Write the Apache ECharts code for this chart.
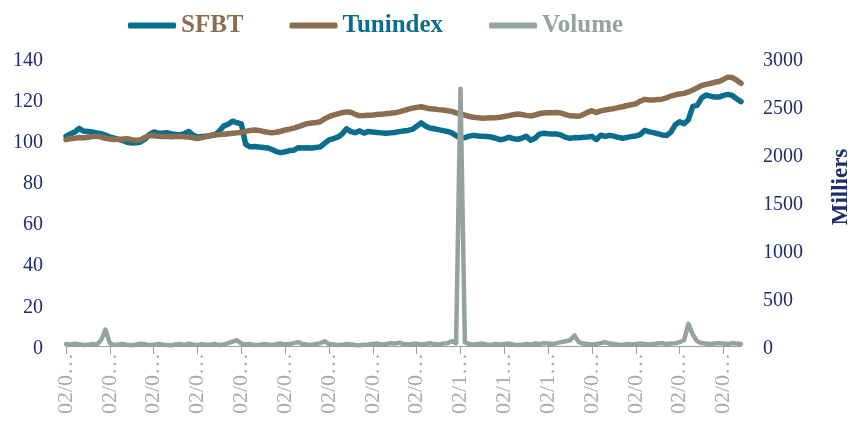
<!DOCTYPE html>
<html>
<head>
<meta charset="utf-8">
<script src="https://cdn.jsdelivr.net/npm/echarts@6/dist/echarts.min.js"></script>
<style>
  html, body { margin: 0; padding: 0; background: #fff; }
  #main { width: 849px; height: 421px; }
</style>
</head>
<body>
<div id="main"></div>
<script>
var tickDates = [
  '02/01/2020', '02/02/2020', '02/03/2020', '02/04/2020', '02/05/2020', '02/06/2020',
  '02/07/2020', '02/08/2020', '02/09/2020', '02/10/2020', '02/11/2020', '02/12/2020',
  '02/01/2021', '02/02/2021', '02/03/2021', '02/04/2021'
];

var sfbt = [
  102, 103, 104, 105.8, 104.5, 104.3, 104, 103.6, 103.2, 102.5,
  101.6, 101, 100.4, 99.8, 99, 98.7, 98.8, 99.2, 100.5, 102.8,
  104, 103.6, 103.4, 103.7, 103.2, 102.8, 102.6, 103.2, 104.3, 102.5,
  101.6, 101.8, 102, 102.2, 102.8, 104.5, 107, 107.8, 109.3, 108.5,
  108, 98, 96.8, 97, 96.7, 96.5, 96.3, 95.5, 94.5, 94,
  94.4, 95, 95.2, 96.4, 96.2, 96.4, 96.2, 96.5, 96.8, 98.5,
  100.2, 100.8, 101.5, 103, 105.6, 104.2, 103.7, 104.6, 103.5, 104.3,
  104, 103.8, 103.6, 103.4, 103.6, 103.8, 104.2, 104.5, 104.8, 105.3,
  106.8, 108.5, 107, 106, 105.6, 105.2, 104.7, 104.3, 103.6, 102.3,
  101, 101.3, 102, 102.4, 102.1, 102, 101.8, 101.6, 101, 100.3,
  100.6, 101.5, 100.8, 100.5, 101, 102, 100, 101, 103, 103.4,
  103.2, 103.1, 103, 102.5, 101.4, 101, 101.3, 101.2, 101.5, 101.6,
  101.9, 100.4, 102.5, 101.9, 102.4, 102, 101.4, 101, 101.4, 101.8,
  102.1, 102.8, 104.8, 104.2, 103.7, 103.2, 102.6, 102.3, 104, 107.5,
  109, 108, 110, 116.5, 117, 120.5, 122, 121.5, 121, 121,
  121.8, 122.3, 121.8, 120.2, 118.8
];

var tunindex = [
  100.3, 100.8, 101, 101.3, 101.2, 101.5, 101.8, 102, 101.6, 101,
  100.6, 100.4, 100.5, 100.6, 100.8, 100.3, 99.9, 100.3, 101.3, 102.2,
  102.3, 102, 101.8, 101.8, 101.7, 101.8, 101.9, 101.7, 101.6, 101.2,
  100.9, 101.3, 101.8, 102.4, 102.6, 102.8, 102.9, 103.2, 103.4, 103.6,
  103.8, 104.3, 104.8, 105, 104.8, 104.3, 103.9, 103.7, 103.9, 104.4,
  105, 105.4, 105.9, 106.6, 107.4, 108.1, 108.4, 108.6, 109, 110.4,
  111.5, 112.2, 112.8, 113.4, 113.8, 113.6, 112.6, 111.9, 112, 112.2,
  112.3, 112.5, 112.7, 112.9, 113.1, 113.4, 113.8, 114.4, 115, 115.6,
  116, 116.3, 115.8, 115.3, 115.2, 114.9, 114.7, 114.4, 114, 113.3,
  112.8, 112.2, 111.6, 111.2, 110.9, 110.7, 110.8, 110.9, 111, 111.2,
  111.6, 112, 112.4, 112.8, 112.5, 112.1, 111.8, 112.3, 112.9, 113.3,
  113.4, 113.4, 113.5, 113.2, 112.5, 111.9, 111.8, 111.7, 112.5, 113.6,
  114.4, 113.5, 114.3, 114.7, 115.1, 115.4, 115.9, 116.3, 116.9, 117.3,
  117.7, 119, 119.9, 119.6, 119.6, 119.8, 120, 120.6, 121.5, 122.1,
  122.5, 122.8, 123.5, 124.4, 125.5, 126.6, 127.2, 127.6, 128.2, 128.6,
  129.6, 130.7, 130.5, 129.2, 127.7
];

// volume in thousands (right axis)
var volume = [
  20, 15, 25, 18, 10, 12, 20, 15, 60, 170,
  30, 10, 15, 20, 12, 8, 15, 25, 18, 10,
  12, 20, 15, 10, 8, 15, 20, 12, 25, 15,
  10, 18, 12, 15, 20, 10, 15, 30, 45, 60,
  25, 15, 20, 10, 12, 18, 15, 10, 20, 25,
  15, 20, 30, 40, 20, 15, 12, 20, 30, 50,
  20, 15, 10, 12, 20, 15, 10, 8, 12, 15,
  20, 25, 15, 20, 30, 25, 35, 20, 15, 20,
  25, 15, 20, 30, 20, 15, 25, 30, 50, 30,
  2680, 40, 20, 15, 20, 25, 15, 12, 20, 15,
  20, 25, 15, 10, 12, 20, 15, 25, 20, 30,
  25, 20, 30, 40, 50, 60, 110, 40, 25, 20,
  15, 20, 30, 40, 25, 20, 15, 12, 20, 15,
  20, 25, 20, 15, 20, 25, 30, 20, 25, 30,
  40, 60, 230, 120, 50, 30, 25, 20, 25, 30,
  25, 20, 30, 25, 20
];

var categories = [];
for (var i = 0; i < sfbt.length; i++) {
  var t = tickDates[Math.floor(i / 10)];
  categories.push(i % 10 === 0 ? t : t + ' +' + (i % 10));
}

var navy = '#1f2d6b';
var blue = '#0a6d8d';
var brown = '#8a6e4f';
var grey = '#95a39e';
var font = '"Liberation Serif", "DejaVu Serif", serif';

// value labels nudged a little lower, as in the original
var valueLabel = {
  fontSize: 20,
  fontFamily: font,
  formatter: function (v) { return '{v|' + v + '}'; },
  rich: { v: { color: navy, fontSize: 20, fontFamily: font, padding: [5, 0, 0, 0] } }
};

var chart = echarts.init(document.getElementById('main'));

var option = {
  animation: false,
  textStyle: { fontFamily: font },
  legend: {
    left: 123,
    top: 8,
    itemWidth: 48,
    itemHeight: 6,
    itemGap: 46,
    icon: 'roundRect',
    textStyle: { fontFamily: font, fontSize: 25, fontWeight: 'bold' },
    data: [
      { name: 'SFBT', textStyle: { color: brown } },
      { name: 'Tunindex', textStyle: { color: blue } },
      { name: 'Volume', textStyle: { color: grey } }
    ]
  },
  grid: { left: 66, right: 108, top: 58, bottom: 75, containLabel: false, outerBoundsMode: 'none' },
  xAxis: {
    type: 'category',
    data: categories,
    boundaryGap: false,
    axisLine: { show: true, lineStyle: { color: grey, width: 1 } },
    axisTick: { show: true, interval: 9, length: 8, lineStyle: { color: grey } },
    axisLabel: {
      interval: 9,
      rotate: 90,
      color: '#a3aeaa',
      fontSize: 22,
      fontFamily: font,
      margin: 7,
      formatter: function (v) { return v.slice(0, 4) + '…'; }
    }
  },
  yAxis: [
    {
      type: 'value',
      min: 0, max: 140, interval: 20,
      splitLine: { show: false },
      axisLine: { show: false },
      axisTick: { show: false },
      axisLabel: Object.assign({ margin: 23 }, valueLabel)
    },
    {
      type: 'value',
      min: 0, max: 3000, interval: 500,
      position: 'right',
      name: 'Milliers',
      nameLocation: 'middle',
      nameRotate: 90,
      nameGap: 89,
      nameTextStyle: {
        color: navy, fontSize: 23, fontWeight: 'bold', fontFamily: font,
        padding: [0, 0, 0, 30]
      },
      splitLine: { show: false },
      axisLine: { show: false },
      axisTick: { show: false },
      axisLabel: Object.assign({ margin: 22 }, valueLabel)
    }
  ],
  series: [
    {
      name: 'SFBT', type: 'line', data: sfbt, yAxisIndex: 0,
      showSymbol: false, symbol: 'none',
      itemStyle: { color: blue },
      lineStyle: { color: blue, width: 5.5, cap: 'round', join: 'round' }
    },
    {
      name: 'Tunindex', type: 'line', data: tunindex, yAxisIndex: 0,
      showSymbol: false, symbol: 'none',
      itemStyle: { color: brown },
      lineStyle: { color: brown, width: 5.5, cap: 'round', join: 'round' }
    },
    {
      name: 'Volume', type: 'line', data: volume, yAxisIndex: 1,
      showSymbol: false, symbol: 'none',
      itemStyle: { color: grey },
      lineStyle: { color: grey, width: 4.5, cap: 'round', join: 'round' }
    }
  ]
};

chart.setOption(option);
</script>
</body>
</html>
